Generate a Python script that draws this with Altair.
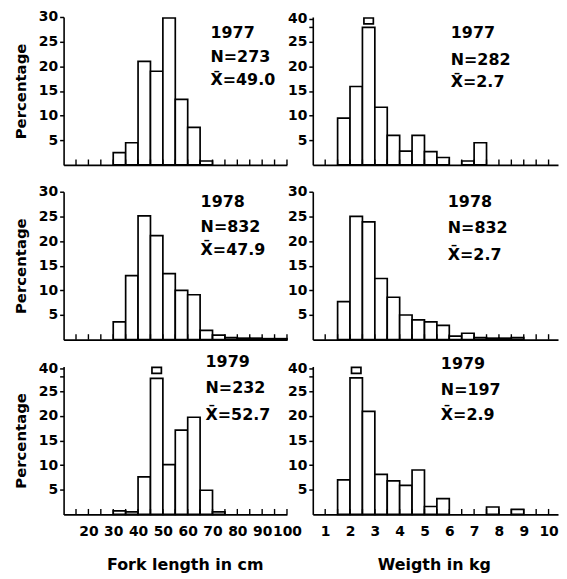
import altair as alt
import pandas as pd

# ---------------- data ----------------
years = [1977, 1978, 1979]

length_1977_bins = [30, 35, 40, 45, 50, 55, 60, 65]
length_1977_pct = [2.5, 4.5, 21.0, 19.0, 29.8, 13.3, 7.6, 0.8]
length_1978_bins = [30, 35, 40, 45, 50, 55, 60, 65, 70, 75, 80, 85, 90, 95]
length_1978_pct = [3.6, 13.0, 25.1, 21.1, 13.4, 10.0, 9.1, 1.9, 0.9, 0.4, 0.3, 0.3, 0.2, 0.2]
length_1979_bins = [30, 35, 40, 45, 50, 55, 60, 65, 70]
length_1979_pct = [0.7, 0.5, 7.6, 27.6, 10.1, 17.1, 19.7, 4.9, 0.5]

weight_1977_bins = [1.5, 2.0, 2.5, 3.0, 3.5, 4.0, 4.5, 5.0, 5.5, 6.5, 7.0]
weight_1977_pct = [9.5, 15.9, 27.9, 11.7, 6.0, 2.8, 6.0, 2.7, 1.5, 0.8, 4.5]
weight_1978_bins = [1.5, 2.0, 2.5, 3.0, 3.5, 4.0, 4.5, 5.0, 5.5, 6.0, 6.5, 7.0, 7.5, 8.0, 8.5]
weight_1978_pct = [7.7, 25.0, 23.9, 12.4, 8.6, 5.0, 4.0, 3.6, 2.9, 0.7, 1.3, 0.4, 0.3, 0.3, 0.4]
weight_1979_bins = [1.5, 2.0, 2.5, 3.0, 3.5, 4.0, 4.5, 5.0, 5.5, 7.5, 8.5]
weight_1979_pct = [7.0, 27.7, 20.9, 8.1, 6.8, 5.9, 9.0, 1.6, 3.2, 1.5, 1.0]

length_n = [273, 832, 232]
length_mean = ["49.0", "47.9", "52.7"]
weight_n = [282, 832, 197]
weight_mean = ["2.7", "2.7", "2.9"]

# bins whose bar runs off the scale (drawn broken, up to "40")
length_broken_bin = [None, None, 45]
weight_broken_bin = [2.5, None, 2.0]

length_tick_labels = [20, 30, 40, 50, 60, 70, 80, 90, 100]
weight_tick_labels = [1, 2, 3, 4, 5, 6, 7, 8, 9, 10]
length_minor_ticks = [15, 20, 25, 30, 35, 40, 45, 50, 55, 60, 65, 70, 75, 80, 85, 90, 95, 100]
weight_minor_ticks = [1.0, 1.5, 2.0, 2.5, 3.0, 3.5, 4.0, 4.5, 5.0, 5.5, 6.0, 6.5, 7.0, 7.5,
                      8.0, 8.5, 9.0, 9.5, 10.0]
pct_ticks = [5, 10, 15, 20, 25, 30]
pct_ticks_broken = [5, 10, 15, 20, 25, 28, 29.6]

FONT = "DejaVu Sans"
PANEL_H = 149


def make_panel(bins, pcts, binw, xdom, width, broken, year, n, mean,
               text_x, text_ys, bottom, xlabels, xtitle, ytitle, minor, title_x):
    df = pd.DataFrame({"start": bins, "end": [b + binw for b in bins],
                       "pct": pcts, "zero": [0] * len(bins)})
    xs = alt.Scale(domain=xdom, nice=False, zero=False)
    ys = alt.Scale(domain=[0, 30], nice=False)

    if bottom:
        xaxis = alt.Axis(values=xlabels, title=xtitle, labels=True, ticks=False,
                         domain=True, domainWidth=1.6, domainColor="black",
                         labelPadding=10, labelFontSize=14, labelFontWeight="bold",
                         labelFont=FONT, labelFlush=False, labelOverlap=False,
                         titleFont=FONT, titleFontSize=16, titleFontWeight="bold",
                         titleX=title_x, titleY=51, titleBaseline="middle",
                         titleAlign="center", grid=False)
    else:
        xaxis = alt.Axis(title=None, labels=False, ticks=False, domain=True,
                         domainWidth=1.6, domainColor="black", grid=False)

    if broken is None:
        yvals = pct_ticks
        expr = "datum.label"
    else:
        yvals = pct_ticks_broken
        expr = "datum.value > 29 ? '40' : (datum.value > 26 ? '' : datum.label)"
    yaxis = alt.Axis(values=yvals, labelExpr=expr, title=ytitle, grid=False,
                     domainWidth=1.6, tickWidth=1.5, tickSize=4, labelPadding=2,
                     labelFont=FONT, labelFontSize=14, labelFontWeight="bold",
                     labelOverlap=False, titleFont=FONT, titleFontSize=15,
                     titleFontWeight="bold", titlePadding=10)

    bars = alt.Chart(df).mark_rect(fill="white", stroke="black", strokeWidth=1.7).encode(
        x=alt.X("start:Q", scale=xs, axis=xaxis),
        x2="end:Q",
        y=alt.Y("pct:Q", scale=ys, axis=yaxis),
        y2="zero:Q",
    )
    layers = [bars]

    tdf = pd.DataFrame({"start": minor, "pct": [1.1] * len(minor), "zero": [0] * len(minor)})
    ticks = alt.Chart(tdf).mark_rule(color="black", strokeWidth=1.4).encode(
        x=alt.X("start:Q", scale=xs, axis=xaxis),
        y=alt.Y("pct:Q", scale=ys, axis=yaxis),
        y2="zero:Q",
    )
    layers.append(ticks)

    if broken is not None:
        cdf = pd.DataFrame({"start": [broken + binw * 0.12], "end": [broken + binw * 0.88],
                            "pct": [29.8], "zero": [28.6]})
        cap = alt.Chart(cdf).mark_rect(fill="white", stroke="black", strokeWidth=1.7).encode(
            x=alt.X("start:Q", scale=xs, axis=xaxis),
            x2="end:Q",
            y=alt.Y("pct:Q", scale=ys, axis=yaxis),
            y2="zero:Q",
        )
        layers.append(cap)

    texts = [str(year), f"N={n}", f"X\u0304={mean}"]
    for t, py in zip(texts, text_ys):
        layers.append(
            alt.Chart(pd.DataFrame({"t": [t]})).mark_text(
                align="left", baseline="middle", font=FONT, fontSize=16,
                fontWeight="bold", color="black"
            ).encode(x=alt.value(text_x), y=alt.value(py), text="t:N")
        )

    return alt.layer(*layers).properties(width=width, height=PANEL_H)


length_bins = [length_1977_bins, length_1978_bins, length_1979_bins]
length_pcts = [length_1977_pct, length_1978_pct, length_1979_pct]
weight_bins = [weight_1977_bins, weight_1978_bins, weight_1979_bins]
weight_pcts = [weight_1977_pct, weight_1978_pct, weight_1979_pct]

left_text = [(148, [16, 40, 64]), (138, [10, 36, 59]), (143, [-4, 22, 49])]
right_text = [(139, [16, 43, 66]), (136, [10, 37, 64]), (129, [-2, 24, 49])]

panels = []
for i, yr in enumerate(years):
    bottom = i == 2
    panels.append(make_panel(
        length_bins[i], length_pcts[i], 5, [10, 100], 225, length_broken_bin[i],
        yr, length_n[i], length_mean[i], left_text[i][0], left_text[i][1],
        bottom, length_tick_labels, "Fork length in cm", "Percentage",
        length_minor_ticks, 122))
    panels.append(make_panel(
        weight_bins[i], weight_pcts[i], 0.5, [0.5, 10.38], 247, weight_broken_bin[i],
        yr, weight_n[i], weight_mean[i], right_text[i][0], right_text[i][1],
        bottom, weight_tick_labels, "Weigth in kg", None,
        weight_minor_ticks, 122))

chart = alt.concat(
    *panels, columns=2, spacing={"row": 27, "column": 26}, bounds="flush", align="each"
).properties(
    padding={"left": 5, "top": 0, "right": 0, "bottom": 0}
).configure_view(
    strokeWidth=0
).configure_axis(
    domainColor="black", tickColor="black", labelColor="black", titleColor="black"
)

chart.save("out.html", embed_options={"renderer": "svg", "actions": False})
